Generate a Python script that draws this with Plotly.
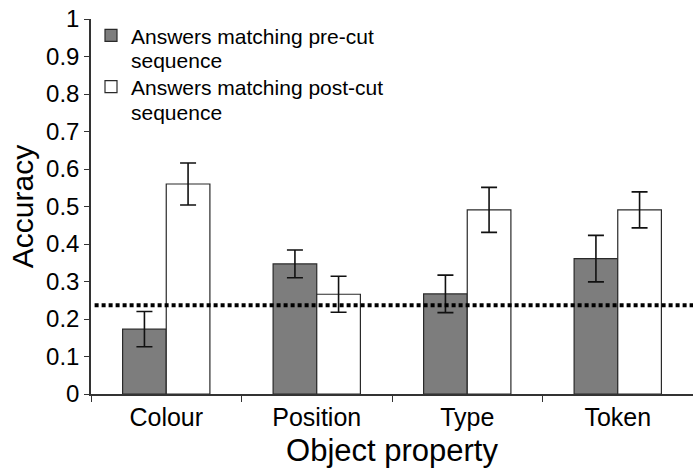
import plotly.graph_objects as go

# Data
categories = ["Colour", "Position", "Type", "Token"]
pre_cut = [0.173, 0.347, 0.267, 0.361]
pre_cut_err = [0.047, 0.037, 0.050, 0.062]
post_cut = [0.560, 0.266, 0.491, 0.491]
post_cut_err = [0.056, 0.048, 0.060, 0.048]
chance_level = 0.237
y_ticks = [0, 0.1, 0.2, 0.3, 0.4, 0.5, 0.6, 0.7, 0.8, 0.9, 1]
y_tick_labels = ["0", "0.1", "0.2", "0.3", "0.4", "0.5", "0.6", "0.7", "0.8", "0.9", "1"]
series_names = ["Answers matching pre-cut", "Answers matching post-cut"]
name_second_line = "sequence"

FONT = "Liberation Sans, Arial, Helvetica, sans-serif"
LEGEND_SIZE = 21

fig = go.Figure()
fig.add_trace(go.Bar(
    x=categories, y=pre_cut,
    name=series_names[0], legendgroup="pre",
    marker=dict(color="#7d7d7d", line=dict(color="#2a2a2a", width=1.2)),
    error_y=dict(type="data", array=pre_cut_err, visible=True,
                 color="#111111", thickness=1.6, width=8),
))
fig.add_trace(go.Bar(
    x=categories, y=post_cut,
    name=series_names[1], legendgroup="post",
    marker=dict(color="#ffffff", line=dict(color="#2a2a2a", width=1.2)),
    error_y=dict(type="data", array=post_cut_err, visible=True,
                 color="#111111", thickness=1.6, width=8),
))

# Chance level line
fig.add_shape(type="line", xref="paper", yref="y",
              x0=0.006, x1=1.0, y0=chance_level, y1=chance_level,
              line=dict(color="#000000", width=4, dash="4px,3px"), layer="above")

# Second line of each legend label, set tighter than the legend's own line spacing
for y_pos in (0.888, 0.752):
    fig.add_annotation(xref="paper", yref="paper", x=0.065, y=y_pos,
                       xanchor="left", yanchor="middle", showarrow=False,
                       text=name_second_line, borderpad=0,
                       font=dict(family=FONT, size=LEGEND_SIZE, color="#000000"))

fig.update_layout(
    width=693, height=470,
    margin=dict(l=91, r=0, t=19, b=76),
    paper_bgcolor="white", plot_bgcolor="white",
    barmode="group", bargap=0.42, bargroupgap=0.0,
    font=dict(family=FONT, color="#000000", size=24),
    showlegend=True,
    legend=dict(x=0.0, y=1.01, xanchor="left", yanchor="top",
                font=dict(family=FONT, size=LEGEND_SIZE, color="#000000"),
                bgcolor="rgba(0,0,0,0)", valign="middle",
                tracegroupgap=21, traceorder="grouped"),
    xaxis=dict(
        title=dict(text="Object property", font=dict(size=31), standoff=10),
        showline=True, linecolor="#333333", linewidth=1.5,
        ticks="outside", ticklen=6, tickcolor="#333333", tickson="boundaries",
        tickfont=dict(size=25), showgrid=False, zeroline=False,
        range=[-0.5, 3.5],
    ),
    yaxis=dict(
        title=dict(text="Accuracy", font=dict(size=30), standoff=4),
        range=[0, 1], tickvals=y_ticks, ticktext=y_tick_labels,
        showline=True, linecolor="#333333", linewidth=1.5,
        ticks="outside", ticklen=5, tickcolor="#333333",
        tickfont=dict(size=24), showgrid=False, zeroline=False,
    ),
)

fig.write_html("out.html")
